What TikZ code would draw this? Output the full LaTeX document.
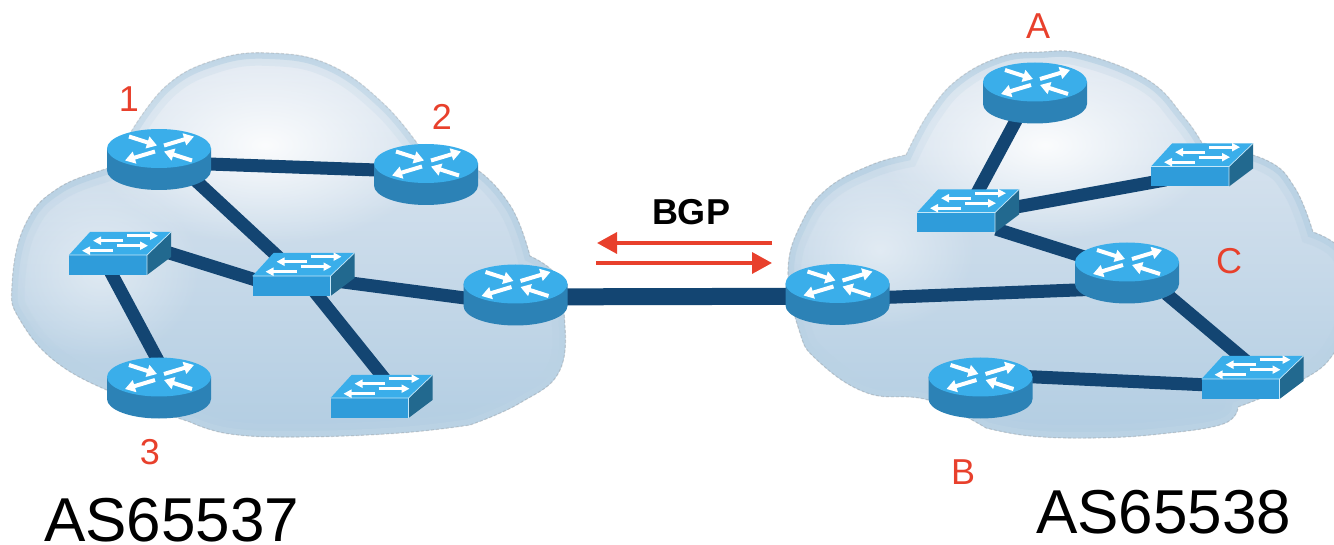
\documentclass[tikz,border=0pt]{standalone}
\usepackage{fontspec}
\setmainfont{Liberation Sans}
\usetikzlibrary{arrows.meta,fadings}
\definecolor{linkblue}{HTML}{134572}
\definecolor{devicetop}{HTML}{3AAEEA}
\definecolor{deviceside}{HTML}{2C82B6}
\definecolor{switchfront}{HTML}{2F9CDA}
\definecolor{switchside}{HTML}{22698F}
\definecolor{labelred}{HTML}{E8402C}
\definecolor{cloudrim}{HTML}{BAD2E4}
\definecolor{cloudlow}{HTML}{B2CDE2}
\definecolor{cloudhigh}{HTML}{E2E9F2}
\tikzfading[name=softglow,inner color=transparent!10,outer color=transparent!100]
\def\cloudleft{plot[smooth,tension=.7] coordinates {(126,140) (165,87) (215,60) (270,53) (330,65) (385,105) (424,153)}
	-- plot[smooth,tension=.7] coordinates {(424,153) (470,165) (510,205) (530,256)}
	-- plot[smooth,tension=.7] coordinates {(530,256) (556,275) (564,310) (560,370) (520,403) (470,425)}
	-- plot[smooth,tension=.7] coordinates {(470,425) (400,433) (300,437) (230,434) (190,422)}
	-- plot[smooth,tension=.7] coordinates {(190,422) (130,400) (60,365) (20,320) (12,285) (25,225) (60,187) (126,160) (126,140)}
	-- cycle}
\def\cloudright{plot[smooth,tension=.7] coordinates {(906,155) (928,114) (957,80) (1000,57) (1040,52) (1083,54) (1148,80) (1184,117) (1202,143)}
	-- plot[smooth,tension=.7] coordinates {(1202,143) (1266,160) (1295,188) (1313,232)}
	-- plot[smooth,tension=.7] coordinates {(1313,232) (1345,255) (1350,310) (1334,353) (1302,380) (1238,407)}
	-- plot[smooth,tension=.7] coordinates {(1238,407) (1223,424) (1160,434) (1094,438) (1030,436) (986,428)}
	-- plot[smooth,tension=.7] coordinates {(986,428) (928,400) (867,393) (817,360) (799,330) (788,270) (802,222) (828,188) (871,165) (906,155)}
	-- cycle}
\def\drawcloud#1#2#3{\begin{scope}
		\clip #1;
		\shade[top color=cloudhigh,bottom color=cloudlow] (#2,45) rectangle (#3,440);
		\draw[cloudrim,line width=26pt,opacity=.35] #1;
		\draw[cloudrim,line width=12pt] #1;
	\end{scope}
	\draw[black!45,line width=1.2pt,opacity=.3,dash pattern=on 3pt off 2pt] #1;}
\tikzset{
	link/.style={linkblue,line width=13pt,shorten >=-15pt,shorten <=-15pt},
	routerbox/.style={minimum width=105pt,minimum height=61pt,inner sep=0pt,outer sep=0pt},
	switchbox/.style={minimum width=102pt,minimum height=43pt,inner sep=0pt,outer sep=0pt},
	redtag/.style={labelred,font=\fontsize{36}{36}\selectfont,inner sep=0pt},
	astag/.style={black,font=\fontsize{62}{62}\selectfont,inner sep=0pt,anchor=base west},
	redarrow/.style={labelred,line width=3.5pt,-{Triangle[length=20pt,width=21pt]}},
	whitearrow/.style={white,line width=4pt,-{Triangle[length=10pt,width=12pt]}},
	smallarrow/.style={white,line width=2.8pt,-{Triangle[length=8pt,width=8pt]}},
	router/.pic={
		\fill[deviceside] (-52,-11) -- (-52,11) arc[start angle=180,end angle=360,x radius=52pt,y radius=19.5pt] -- (52,-11) -- cycle;
		\fill[devicetop] (0,-11) ellipse [x radius=52pt,y radius=19.5pt];
		\draw[whitearrow] (-30,-23) -- (-2,-14);
		\draw[whitearrow] (5,-14) -- (35,-23);
		\draw[whitearrow] (-4,-8) -- (-34,1);
		\draw[whitearrow] (33,1) -- (5,-8);
	},
	switch/.pic={
		\fill[switchfront] (-51,1.5) rectangle (27,21.5);
		\fill[switchside] (27,1.5) -- (51,-21.5) -- (51,3.5) -- (27,21.5) -- cycle;
		\fill[devicetop] (-51,1.5) -- (-30,-21.5) -- (51,-21.5) -- (27,1.5) -- cycle;
		\draw[white!70!devicetop,line width=.7pt] (-51,1.5) -- (27,1.5) -- (51,-21.5) (27,1.5) -- (27,21.5);
		\draw[smallarrow] (3,-12.8) -- (-27,-12.8);
		\draw[smallarrow] (7,-17.8) -- (38,-17.8);
		\draw[smallarrow] (-7,-2.8) -- (-38,-2.8);
		\draw[smallarrow] (-3,-7.8) -- (28,-7.8);
	}
}

\begin{document}
\begin{tikzpicture}[x=1pt,y=-1pt]
		%%%%% START %%%%%
		\useasboundingbox (0,0) rectangle (1334,545);
		
		% clouds
		\drawcloud{\cloudleft}{0}{580}
		\drawcloud{\cloudright}{780}{1360}
		\fill[white,path fading=softglow] (265,145) ellipse [x radius=175pt,y radius=100pt];
		\fill[white,opacity=.5,path fading=softglow] (100,270) ellipse [x radius=100pt,y radius=90pt];
		\fill[white,path fading=softglow] (1045,145) ellipse [x radius=170pt,y radius=95pt];
		\fill[white,opacity=.5,path fading=softglow] (880,250) ellipse [x radius=95pt,y radius=80pt];
		
		% devices on the left
		\node[routerbox] (rone) at (159,159.5) {};
		\node[routerbox] (rtwo) at (426,174.5) {};
		\node[routerbox] (rthree) at (159,388) {};
		\node[routerbox] (rleft) at (515.5,295) {};
		\node[switchbox] (sleft) at (120,253.5) {};
		\node[switchbox] (smid) at (303.5,274.5) {};
		\node[switchbox] (slow) at (381.5,396.5) {};
		
		% devices on the right
		\node[routerbox] (rright) at (837.5,294.5) {};
		\node[routerbox] (ra) at (1035,93) {};
		\node[routerbox] (rb) at (980.5,388) {};
		\node[routerbox] (rc) at (1127,273) {};
		\node[switchbox] (stop) at (968,211) {};
		\node[switchbox] (sfar) at (1202,165) {};
		\node[switchbox] (sbase) at (1252.5,377.5) {};
		
		% links
		\draw[link] (rone.-5) -- (rtwo.175);
		\draw[link] (rone.-33) -- (smid.144);
		\draw[link] (sleft.east) -- (smid.185);
		\draw[link] (sleft.250) -- (rthree.95);
		\draw[link] (smid.-10) -- (rleft.183);
		\draw[link] (smid.-56) -- (slow.north);
		\draw[link,line width=17pt] (rleft.-2) -- (rright.182);
		\draw[link] (rright.-3) -- (rc.198);
		\draw[link] (stop.63) -- (ra.236);
		\draw[link] (stop.5) -- (sfar.199);
		\draw[link,shorten <=-11pt] (stop.-29) -- (rc.160);
		\draw[link] (rc.-31) -- (sbase.120);
		\draw[link] (rb.12) -- (sbase.188);
		
		\foreach \name in {rone,rtwo,rthree,rleft,rright,ra,rb,rc}
			\pic at (\name) {router};
		\foreach \name in {sleft,smid,slow,stop,sfar,sbase}
			\pic at (\name) {switch};
		
		% BGP arrows
		\coordinate (bgpnw) at (597,243);
		\coordinate (bgpne) at (772,243);
		\coordinate (bgpsw) at (596,263);
		\coordinate (bgpse) at (772,263);
		\draw[redarrow] (bgpne) -- (bgpnw);
		\draw[redarrow] (bgpsw) -- (bgpse);
		\node[font=\fontsize{36}{36}\selectfont\bfseries,inner sep=0pt] (bgp) at (691,212) {BGP};
		
		% labels
		\node[redtag] (tagone) at (129,99) {1};
		\node[redtag] (tagtwo) at (442,117) {2};
		\node[redtag] (tagthree) at (150,452) {3};
		\node[redtag] (taga) at (1038,26) {A};
		\node[redtag] (tagb) at (963,472) {B};
		\node[redtag] (tagc) at (1229,261) {C};
		\node[astag] (asleft) at (44,541) {AS65537};
		\node[astag] (asright) at (1036,533) {AS65538};
		
		%%%%% END %%%%%
	\end{tikzpicture}
\end{document}
